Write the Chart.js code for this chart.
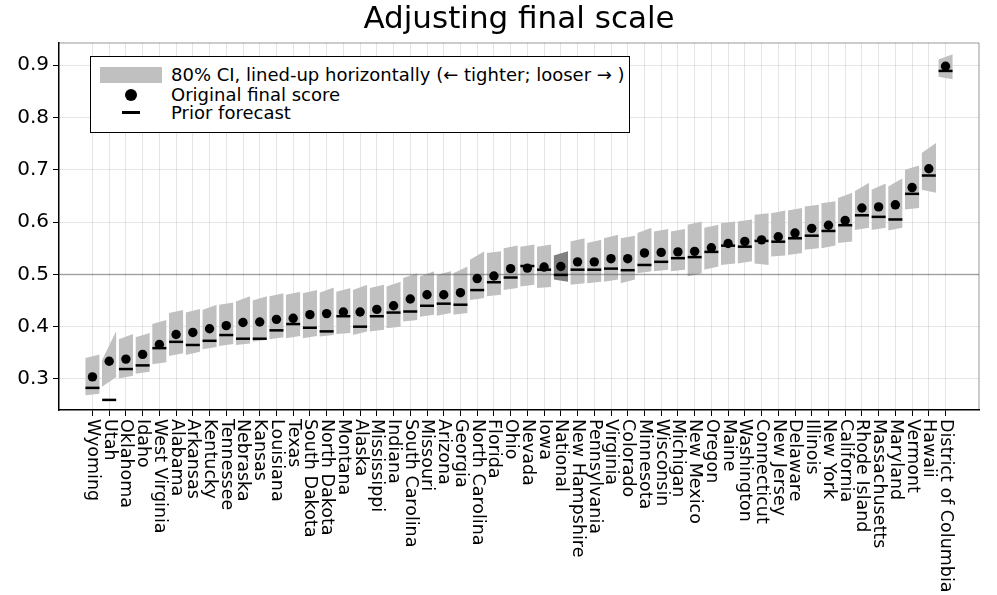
<!DOCTYPE html>
<html>
<head>
<meta charset="utf-8">
<script src="https://cdn.jsdelivr.net/npm/chart.js@4/dist/chart.umd.min.js"></script>
<style>
  html, body { margin: 0; padding: 0; background: #fff; }
  #wrap { position: relative; width: 997px; height: 595px; }
  #legend { position: absolute; left: 90px; top: 56px; width: 540px; height: 77px; box-sizing: border-box;
            border: 1.5px solid #000; background: #fff; font-family: 'DejaVu Sans', sans-serif; font-size: 18px; color: #000; }
  #legend .sw { position: absolute; left: 9px; top: 9.5px; width: 62px; height: 16px; background: #c0c0c0; }
  #legend .dot { position: absolute; left: 33.5px; top: 31.5px; width: 12px; height: 12px; border-radius: 50%; background: #000; }
  #legend .dash { position: absolute; left: 31px; top: 54px; width: 18px; height: 3px; background: #000; }
  #legend .t { position: absolute; left: 80px; height: 19px; line-height: 19px; white-space: nowrap; }
</style>
</head>
<body>
<div id="wrap">
  <canvas id="c" width="997" height="595"></canvas>
  <div id="legend">
    <div class="sw"></div><div class="t" style="top:8px">80% CI, lined-up horizontally (← tighter; looser → )</div>
    <div class="dot"></div><div class="t" style="top:27.5px">Original final score</div>
    <div class="dash"></div><div class="t" style="top:46px">Prior forecast</div>
  </div>
</div>
<script>
const names = ["Wyoming","Utah","Oklahoma","Idaho","West Virginia","Alabama","Arkansas","Kentucky","Tennessee","Nebraska","Kansas","Louisiana","Texas","South Dakota","North Dakota","Montana","Alaska","Mississippi","Indiana","South Carolina","Missouri","Arizona","Georgia","North Carolina","Florida","Ohio","Nevada","Iowa","National","New Hampshire","Pennsylvania","Virginia","Colorado","Minnesota","Wisconsin","Michigan","New Mexico","Oregon","Maine","Washington","Connecticut","New Jersey","Delaware","Illinois","New York","California","Rhode Island","Massachusetts","Maryland","Vermont","Hawaii","District of Columbia"];

const finalScore = [0.304,0.334,0.338,0.347,0.366,0.385,0.389,0.396,0.402,0.408,0.409,0.414,0.416,0.423,0.425,0.428,0.428,0.433,0.440,0.453,0.461,0.461,0.465,0.492,0.497,0.511,0.512,0.514,0.515,0.524,0.524,0.530,0.530,0.541,0.542,0.543,0.544,0.551,0.559,0.563,0.566,0.572,0.579,0.588,0.594,0.603,0.627,0.629,0.633,0.666,0.702,0.898];

const priorForecast = [0.283,0.260,0.319,0.326,0.359,0.371,0.365,0.373,0.384,0.377,0.377,0.393,0.405,0.398,0.391,0.420,0.400,0.420,0.427,0.429,0.440,0.444,0.442,0.470,0.485,0.494,0.516,0.509,0.499,0.509,0.509,0.511,0.508,0.518,0.524,0.531,0.533,0.543,0.555,0.553,0.564,0.5625,0.569,0.574,0.583,0.594,0.613,0.610,0.605,0.654,0.689,0.889];

// 80% CI band: upper/lower edge at the tight (left) and loose (right) ends
const ciTopLeft  = [0.340,0.336,0.376,0.380,0.405,0.426,0.427,0.432,0.442,0.448,0.450,0.458,0.461,0.464,0.465,0.467,0.470,0.474,0.477,0.493,0.496,0.499,0.502,0.528,0.541,0.550,0.553,0.553,0.536,0.563,0.560,0.569,0.569,0.579,0.582,0.582,0.595,0.589,0.598,0.601,0.614,0.617,0.622,0.630,0.636,0.646,0.659,0.662,0.668,0.700,0.732,0.911];
const ciTopRight = [0.347,0.392,0.386,0.388,0.413,0.432,0.434,0.442,0.446,0.458,0.458,0.464,0.467,0.470,0.475,0.474,0.480,0.480,0.486,0.502,0.506,0.506,0.515,0.544,0.544,0.555,0.557,0.557,0.544,0.569,0.566,0.576,0.574,0.589,0.587,0.587,0.601,0.595,0.601,0.605,0.617,0.622,0.627,0.633,0.640,0.656,0.675,0.674,0.684,0.708,0.751,0.921];
const ciBotLeft  = [0.269,0.285,0.301,0.310,0.328,0.344,0.346,0.357,0.363,0.365,0.371,0.376,0.378,0.378,0.381,0.386,0.384,0.391,0.397,0.410,0.419,0.421,0.423,0.451,0.458,0.470,0.477,0.474,0.490,0.480,0.483,0.486,0.483,0.502,0.506,0.506,0.496,0.509,0.518,0.521,0.521,0.534,0.537,0.547,0.550,0.560,0.585,0.585,0.584,0.624,0.662,0.878];
const ciBotRight = [0.272,0.304,0.306,0.314,0.332,0.349,0.352,0.361,0.367,0.368,0.375,0.380,0.382,0.382,0.384,0.388,0.391,0.394,0.400,0.413,0.423,0.426,0.426,0.455,0.461,0.474,0.480,0.476,0.486,0.483,0.486,0.490,0.490,0.506,0.509,0.509,0.502,0.515,0.521,0.525,0.518,0.536,0.541,0.550,0.555,0.563,0.589,0.589,0.589,0.627,0.656,0.873];

const yTicks = [0.3,0.4,0.5,0.6,0.7,0.8,0.9];
const refLine = 0.5;

const FONT = "'DejaVu Sans', sans-serif";
const HALF = 0.43;
const bandColor = '#c0c0c0';
const nationalColor = '#808080';

const datasets = [];
datasets.push({
  type: 'scatter', label: 'Original final score',
  data: names.map((_, i) => ({x: i, y: finalScore[i]})),
  pointRadius: 4.7, pointBackgroundColor: '#000', pointBorderWidth: 0, order: 0
});
datasets.push({
  type: 'scatter', label: 'Prior forecast',
  data: names.map((_, i) => ({x: i, y: priorForecast[i]})),
  pointStyle: 'line', pointRadius: 7, pointBorderColor: '#000', pointBorderWidth: 2.5, order: 1
});
datasets.push({
  type: 'line', label: 'ref',
  data: [{x: -2, y: refLine}, {x: 53, y: refLine}],
  borderColor: 'rgba(0,0,0,0.3)', borderWidth: 1.5, pointRadius: 0, fill: false, order: 2
});
names.forEach((n, i) => {
  const col = n === 'National' ? nationalColor : bandColor;
  datasets.push({
    type: 'line', label: 'ci-up',
    data: [{x: i - HALF, y: ciTopLeft[i]}, {x: i + HALF, y: ciTopRight[i]}],
    borderWidth: 0, pointRadius: 0, fill: '+1', backgroundColor: col, order: 3
  });
  datasets.push({
    type: 'line', label: 'ci-lo',
    data: [{x: i - HALF, y: ciBotLeft[i]}, {x: i + HALF, y: ciBotRight[i]}],
    borderWidth: 0, pointRadius: 0, fill: false, order: 3
  });
});

const extras = {
  id: 'extras',
  afterDraw(chart) {
    const ctx = chart.ctx, a = chart.chartArea, xs = chart.scales.x;
    ctx.save();
    ctx.strokeStyle = 'rgba(0,0,0,0.4)';
    ctx.lineWidth = 1;
    ctx.beginPath();
    ctx.moveTo(a.left, a.top); ctx.lineTo(a.right, a.top); ctx.lineTo(a.right, a.bottom);
    ctx.stroke();
    ctx.fillStyle = '#000';
    ctx.font = '17.5px ' + FONT;
    ctx.textAlign = 'left';
    ctx.textBaseline = 'middle';
    names.forEach((n, i) => {
      const x = xs.getPixelForValue(i);
      ctx.save();
      ctx.translate(x, xs.top + 9);
      ctx.rotate(Math.PI / 2);
      ctx.fillText(n, 0, 0);
      ctx.restore();
    });
    ctx.restore();
  }
};

new Chart(document.getElementById('c'), {
  type: 'scatter',
  data: { datasets },
  plugins: [extras],
  options: {
    responsive: false,
    animation: false,
    devicePixelRatio: 1,
    layout: { padding: { left: 0, right: 18, top: 0, bottom: 0 } },
    plugins: {
      legend: { display: false },
      tooltip: { enabled: false },
      title: {
        display: true, text: 'Adjusting final scale', fullSize: false,
        color: '#000', font: { family: FONT, size: 31, weight: 'normal', lineHeight: 1.2 },
        padding: { top: 1, bottom: 4.8 }
      }
    },
    scales: {
      x: {
        type: 'linear', min: -2, max: 53,
        afterBuildTicks: s => { s.ticks = names.map((_, i) => ({value: i})); },
        ticks: { display: false },
        grid: { color: 'rgba(0,0,0,0.1)', lineWidth: 1, tickColor: '#000', tickLength: 6, drawTicks: true },
        border: { color: '#000', width: 1.5 },
        afterFit: s => { s.height = 185; }
      },
      y: {
        type: 'linear', min: 0.2407, max: 0.9424,
        afterBuildTicks: s => { s.ticks = yTicks.map(v => ({value: v})); },
        ticks: { callback: v => v.toFixed(1), color: '#000', font: { family: FONT, size: 20 }, padding: 4 },
        grid: { color: 'rgba(0,0,0,0.1)', lineWidth: 1, tickColor: '#000', tickLength: 6, drawTicks: true },
        border: { color: '#000', width: 1.5 },
        afterFit: s => { s.width = 59; }
      }
    }
  }
});
</script>
</body>
</html>
